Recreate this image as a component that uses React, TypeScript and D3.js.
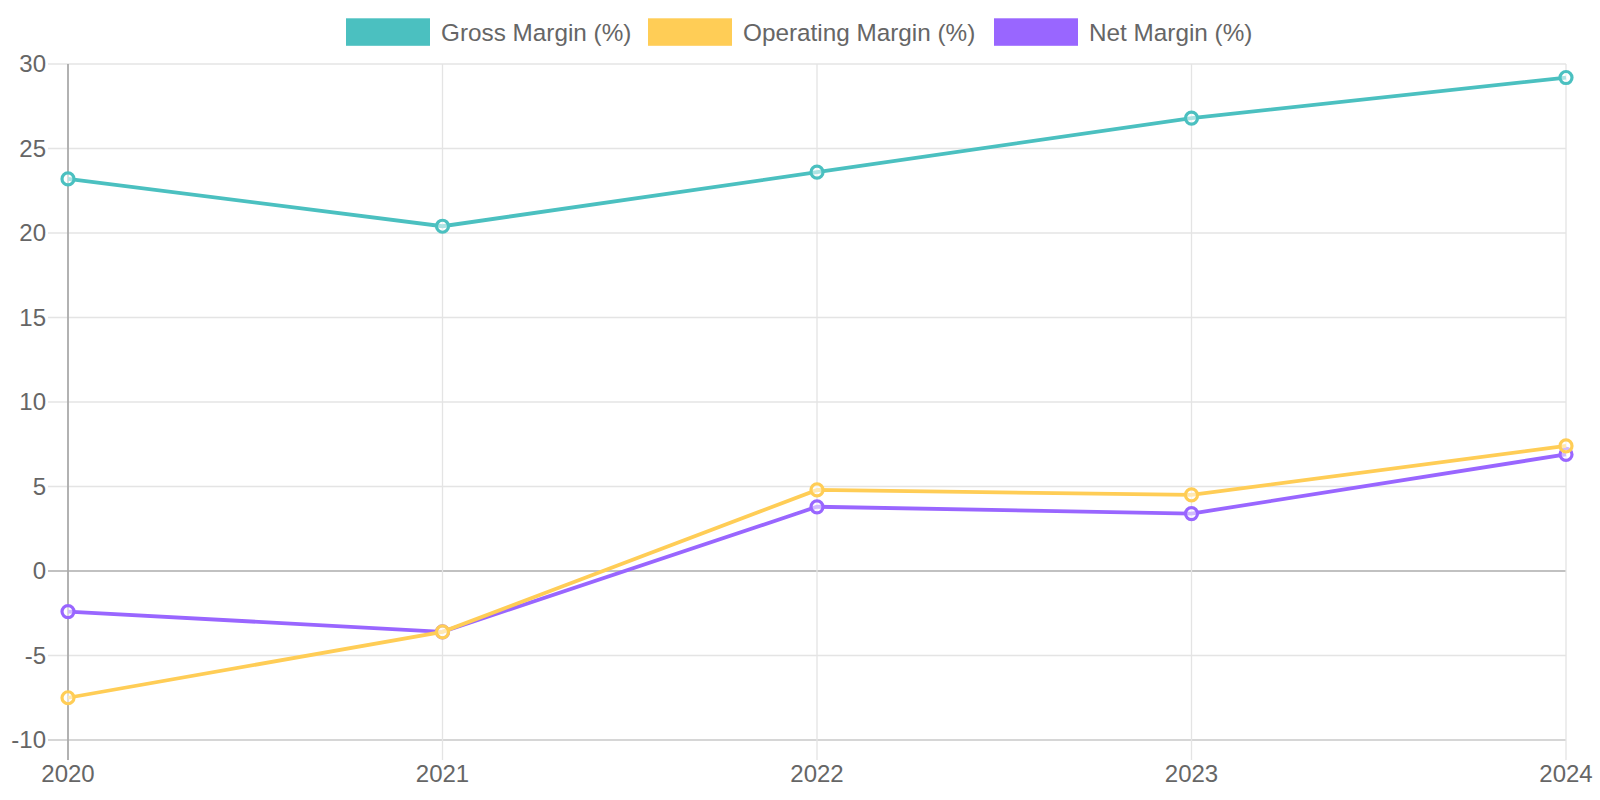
import * as d3 from "d3";
import React from "react";

const years = ["2020", "2021", "2022", "2023", "2024"];
const grossMargin = [23.2, 20.4, 23.6, 26.8, 29.2];
const operatingMargin = [-7.5, -3.6, 4.8, 4.5, 7.4];
const netMargin = [-2.4, -3.6, 3.8, 3.4, 6.9];
const yTicks = [-10, -5, 0, 5, 10, 15, 20, 25, 30];

const series = [
  { name: "Gross Margin (%)", values: grossMargin, color: "#4BC0C0" },
  { name: "Operating Margin (%)", values: operatingMargin, color: "#FFCD56" },
  { name: "Net Margin (%)", values: netMargin, color: "#9966FF" },
];

const width = 1600;
const height = 800;
const plot = { left: 68, right: 1566, top: 64, bottom: 740 };
const font = "'Liberation Sans', Arial, sans-serif";

export default function App() {
  const x = d3
    .scalePoint<string>()
    .domain(years)
    .range([plot.left, plot.right]);
  const y = d3
    .scaleLinear()
    .domain([-10, 30])
    .range([plot.bottom, plot.top]);

  const line = d3
    .line<number>()
    .x((_, i) => x(years[i])!)
    .y((d) => y(d));

  const legendX = [346, 648, 994];

  // first dataset ends up on top
  const drawOrder = [...series].reverse();

  return (
    <svg
      width={width}
      height={height}
      style={{ position: "absolute", left: 0, top: 0, background: "#fff" }}
      fontFamily={font}
    >
      {/* horizontal grid */}
      {yTicks.map((t) => (
        <line
          key={"h" + t}
          x1={plot.left - 20}
          x2={plot.right}
          y1={y(t)}
          y2={y(t)}
          stroke={t === 0 ? "#acacac" : t === -10 ? "#c8c8c8" : "#e4e4e4"}
          strokeWidth={t === 0 || t === -10 ? 1.6 : 1.3}
        />
      ))}
      {/* vertical grid */}
      {years.map((yr, i) => (
        <line
          key={"v" + yr}
          x1={x(yr)}
          x2={x(yr)}
          y1={plot.top}
          y2={plot.bottom + 20}
          stroke={i === 0 ? "#aaaaaa" : "#e4e4e4"}
          strokeWidth={i === 0 ? 1.8 : 1.3}
        />
      ))}
      {/* y tick labels */}
      {yTicks.map((t) => (
        <text
          key={"yl" + t}
          x={plot.left - 22}
          y={y(t)}
          dy="0.35em"
          textAnchor="end"
          fontSize={24}
          fill="#666"
        >
          {t}
        </text>
      ))}
      {/* x tick labels */}
      {years.map((yr) => (
        <text
          key={"xl" + yr}
          x={x(yr)}
          y={773.5}
          dy="0.35em"
          textAnchor="middle"
          fontSize={24}
          fill="#666"
        >
          {yr}
        </text>
      ))}
      {/* lines + points */}
      {drawOrder.map((s) => (
        <g key={s.name}>
          <path
            d={line(s.values)!}
            fill="none"
            stroke={s.color}
            strokeWidth={3.8}
          />
          {s.values.map((v, i) => (
            <circle
              key={i}
              cx={x(years[i])}
              cy={y(v)}
              r={6}
              fill="rgba(255,255,255,0.55)"
              stroke={s.color}
              strokeWidth={3.2}
            />
          ))}
        </g>
      ))}
      {/* legend */}
      {series.map((s, i) => (
        <g key={"lg" + s.name} transform={`translate(${legendX[i]},18.3)`}>
          <rect width={84} height={27.5} fill={s.color} />
          <text x={95} y={13.75} dy="0.35em" fontSize={24.3} fill="#666">
            {s.name}
          </text>
        </g>
      ))}
    </svg>
  );
}
